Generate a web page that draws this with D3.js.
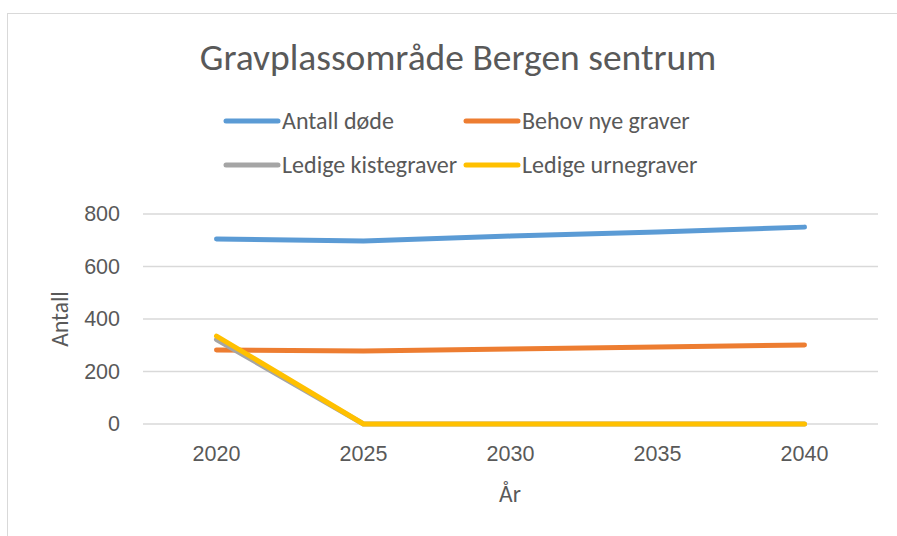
<!DOCTYPE html>
<html>
<head>
<meta charset="utf-8">
<script src="https://cdn.jsdelivr.net/npm/d3@7"></script>
<style>
	body { margin: 0; background: #fff; }
	svg { font-family: Carlito, 'Open Sans', 'Liberation Sans', sans-serif; }
</style>
</head>
<body>
<div id="chart"></div>
<script>
const years = ['2020', '2025', '2030', '2035', '2040'];
const antallDode = [705, 697, 716, 731, 750];
const behovNyeGraver = [282, 278, 286, 293, 301];
const ledigeKistegraver = [322, 0, 0, 0, 0];
const ledigeUrnegraver = [335, 0, 0, 0, 0];
const yTicks = [0, 200, 400, 600, 800];

const series = [
	{ name: 'Antall døde', values: antallDode, color: '#5b9bd5' },
	{ name: 'Behov nye graver', values: behovNyeGraver, color: '#ed7d31' },
	{ name: 'Ledige kistegraver', values: ledigeKistegraver, color: '#a5a5a5' },
	{ name: 'Ledige urnegraver', values: ledigeUrnegraver, color: '#ffc000' }
];

const width = 897;
const height = 536;
const textColor = '#595959';

const svg = d3.select('#chart').append('svg')
	.attr('width', width)
	.attr('height', height);

// chart frame
svg.append('rect')
	.attr('x', 7.5)
	.attr('y', 13.5)
	.attr('width', 1000)
	.attr('height', 600)
	.style('fill', '#fff')
	.style('stroke', '#d9d9d9');

const x = d3.scaleBand()
	.domain(years)
	.range([143, 878]);

const y = d3.scaleLinear()
	.domain([0, 800])
	.range([424, 214]);

// gridlines
svg.append('g')
	.selectAll('line')
	.data(yTicks)
	.enter()
	.append('line')
	.attr('x1', 143)
	.attr('x2', 878)
	.attr('y1', d => y(d))
	.attr('y2', d => y(d))
	.style('stroke', '#d9d9d9')
	.style('stroke-width', 1.5);

const yAxis = svg.append('g')
	.attr('transform', 'translate(143,0)')
	.call(d3.axisLeft(y).tickValues(yTicks).tickSize(0).tickPadding(23));
yAxis.select('.domain').remove();
yAxis.selectAll('text')
	.style('font-size', '21.5px')
	.style('fill', textColor)
	.attr('font-family', null);

const xAxis = svg.append('g')
	.attr('transform', 'translate(0,424)')
	.call(d3.axisBottom(x).tickSize(0).tickPadding(22));
xAxis.select('.domain').remove();
xAxis.selectAll('text')
	.style('font-size', '21.5px')
	.style('fill', textColor)
	.attr('font-family', null);

const line = d3.line()
	.x((d, i) => x(years[i]) + x.bandwidth() / 2)
	.y(d => y(d));

svg.append('g')
	.selectAll('path')
	.data(series)
	.enter()
	.append('path')
	.attr('d', d => line(d.values))
	.style('fill', 'none')
	.style('stroke', d => d.color)
	.style('stroke-width', 5)
	.style('stroke-linecap', 'round')
	.style('stroke-linejoin', 'round');

// title
svg.append('text')
	.attr('x', 458)
	.attr('y', 70)
	.attr('text-anchor', 'middle')
	.style('font-size', '37.5px')
	.style('fill', textColor)
	.text('Gravplassområde Bergen sentrum');

// axis titles
svg.append('text')
	.attr('x', 510)
	.attr('y', 502)
	.attr('text-anchor', 'middle')
	.style('font-size', '23.5px')
	.style('fill', textColor)
	.text('År');

svg.append('text')
	.attr('transform', 'translate(68,319) rotate(-90)')
	.attr('text-anchor', 'middle')
	.style('font-size', '23.5px')
	.style('fill', textColor)
	.text('Antall');

// legend
const legendPos = [[224, 121], [464, 121], [224, 165], [464, 165]];
const legend = svg.append('g')
	.selectAll('g')
	.data(series)
	.enter()
	.append('g')
	.attr('transform', (d, i) => `translate(${legendPos[i][0]},${legendPos[i][1]})`);

legend.append('line')
	.attr('x1', 2)
	.attr('x2', 54)
	.style('stroke', d => d.color)
	.style('stroke-width', 5)
	.style('stroke-linecap', 'round');

legend.append('text')
	.attr('x', 58)
	.attr('y', 8)
	.style('font-size', '24px')
	.style('fill', textColor)
	.text(d => d.name);
</script>
</body>
</html>
